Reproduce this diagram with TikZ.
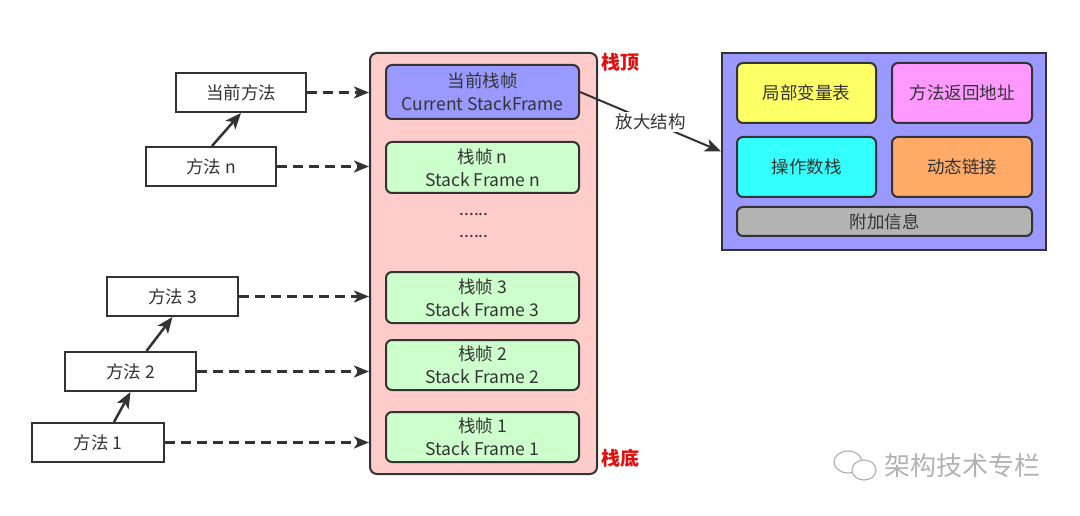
\documentclass[tikz,border=0pt]{standalone}
\usepackage{fontspec}
\setmainfont{Noto Sans CJK SC}
\usetikzlibrary{arrows.meta}
\definecolor{ink}{HTML}{333333}
\definecolor{stackpink}{HTML}{FFCCCC}
\definecolor{curblue}{HTML}{9999FF}
\definecolor{framegreen}{HTML}{CCFFCC}
\definecolor{lvyellow}{HTML}{FFFF66}
\definecolor{ramag}{HTML}{FF99FF}
\definecolor{oscyan}{HTML}{33FFFF}
\definecolor{dlorange}{HTML}{FFAA66}
\definecolor{aigray}{HTML}{B3B3B3}
\definecolor{topred}{HTML}{E01010}
\tikzset{
  lbl/.style={font=\fontsize{17.5}{23}\selectfont, text=ink, align=center, inner sep=0pt},
  methodbox/.style={lbl, draw=ink, line width=2pt, fill=white},
  framebox/.style={lbl, draw=ink, line width=2pt, rounded corners=6pt, minimum width=193pt},
  partbox/.style={lbl, draw=ink, line width=2pt, rounded corners=6pt},
  dasharrow/.style={draw=ink, line width=2.5pt, dash pattern=on 10pt off 6pt, -{Stealth[length=15pt,width=12pt,inset=4pt]}},
  solidarrow/.style={draw=ink, line width=2.5pt, -{Stealth[length=16pt,width=13pt,inset=4pt]}},
  redlbl/.style={font=\bfseries\fontsize{19}{21}\selectfont, text=topred, inner sep=0pt}
}
\begin{document}
\begin{tikzpicture}[x=1pt,y=-1pt]
\useasboundingbox (0,0) rectangle (1080,516);
% stack
\node[draw=ink, line width=2pt, fill=stackpink, rounded corners=7pt, minimum width=227pt, minimum height=421pt, inner sep=0pt] (stack) at (483.5,263.5) {};
\node[framebox, fill=curblue, minimum height=54pt] (cur) at (482.5,92) {当前栈帧\\Current StackFrame};
\node[framebox, fill=framegreen, minimum height=51pt] (fn) at (482.5,167.5) {栈帧 n\\Stack Frame n};
\node[lbl] (dots1) at (474,215) {......};
\node[lbl] (dots2) at (474,237) {......};
\node[framebox, fill=framegreen, minimum height=51pt] (f3) at (482.5,297.5) {栈帧 3\\Stack Frame 3};
\node[framebox, fill=framegreen, minimum height=50pt] (f2) at (482.5,365) {栈帧 2\\Stack Frame 2};
\node[framebox, fill=framegreen, minimum height=50pt] (f1) at (482.5,437) {栈帧 1\\Stack Frame 1};
\node[redlbl] (top) at (620,62) {栈顶};
\node[redlbl] (bottom) at (620,458) {栈底};
% methods
\node[methodbox, minimum width=130pt, minimum height=39pt] (mcur) at (241,92.5) {当前方法};
\node[methodbox, minimum width=130pt, minimum height=39pt] (mn) at (211,166.5) {方法 n};
\node[methodbox, minimum width=131pt, minimum height=39pt] (m3) at (172.5,296.5) {方法 3};
\node[methodbox, minimum width=131pt, minimum height=39pt] (m2) at (130.5,371.5) {方法 2};
\node[methodbox, minimum width=132pt, minimum height=39pt] (m1) at (98,442.5) {方法 1};
% dashed arrows
\draw[dasharrow] (mcur.east) -- (mcur.east -| stack.west);
\draw[dasharrow] (mn.east) -- (mn.east -| stack.west);
\draw[dasharrow] (m3.east) -- (m3.east -| stack.west);
\draw[dasharrow] (m2.east) -- (m2.east -| stack.west);
\draw[dasharrow] (m1.east) -- (m1.east -| stack.west);
% solid arrows
\draw[solidarrow] ([xshift=1pt]mn.north) -- (mcur.south);
\draw[solidarrow] ([xshift=16pt]m2.north) -- (m3.south);
\draw[solidarrow] ([xshift=16pt]m1.north) -- (m2.south);
% structure
\node[draw=ink, line width=2pt, fill=curblue, minimum width=324pt, minimum height=197pt, inner sep=0pt] (big) at (884,151.5) {};
\node[partbox, fill=lvyellow, minimum width=139pt, minimum height=60pt] (lv) at (806.5,93) {局部变量表};
\node[partbox, fill=ramag, minimum width=140pt, minimum height=60pt] (ra) at (962,93) {方法返回地址};
\node[partbox, fill=oscyan, minimum width=139pt, minimum height=60pt] (os) at (806.5,167) {操作数栈};
\node[partbox, fill=dlorange, minimum width=140pt, minimum height=60pt] (dl) at (962,167) {动态链接};
\node[partbox, fill=aigray, minimum width=295pt, minimum height=29pt] (ai) at (884.5,221.5) {附加信息};
\draw[solidarrow, line width=2pt] (cur.east) -- node[lbl, fill=white, inner sep=2pt, midway] {放大结构} (big.west);
% watermark
\node[font=\fontsize{26}{28}\selectfont, text=black!30, inner sep=0pt] (wm) at (962,466) {架构技术专栏};
\draw[black!30, line width=1.2pt] (848,462) ellipse (14pt and 11pt);
\draw[black!30, line width=1.2pt, fill=white] (864,470) ellipse (12pt and 10pt);
\end{tikzpicture}
\end{document}
